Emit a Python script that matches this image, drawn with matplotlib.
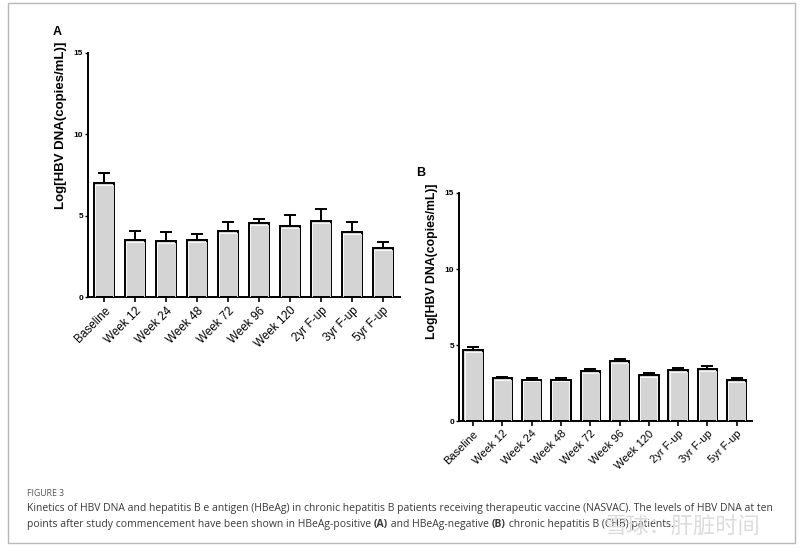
import matplotlib
matplotlib.use("Agg")
import matplotlib.pyplot as plt
from matplotlib.patches import Rectangle
import numpy as np

categories = ["Baseline", "Week 12", "Week 24", "Week 48", "Week 72", "Week 96",
              "Week 120", "2yr F-up", "3yr F-up", "5yr F-up"]
mean_a = [6.99, 3.53, 3.45, 3.49, 4.05, 4.56, 4.38, 4.66, 3.99, 3.04]
err_a = [0.65, 0.54, 0.52, 0.37, 0.57, 0.25, 0.69, 0.72, 0.63, 0.37]
mean_b = [4.68, 2.81, 2.72, 2.72, 3.29, 3.95, 3.01, 3.34, 3.40, 2.68]
err_b = [0.20, 0.11, 0.11, 0.11, 0.14, 0.11, 0.15, 0.15, 0.25, 0.13]
yticks = [0, 5, 10, 15]
ylabel = "Log[HBV DNA(copies/mL)]"

plt.rcParams['font.family'] = ['Liberation Sans', 'DejaVu Sans']

W, H = 800, 552
fig = plt.figure(figsize=(W / 100, H / 100), dpi=100)
fig.patch.set_facecolor("white")

# outer frame
fig.add_artist(Rectangle((8 / W, 1 - 543 / H), (795 - 8) / W, (543 - 3) / H,
                         transform=fig.transFigure, fill=False,
                         edgecolor="#b8b8b8", lw=1.0))


def panel(rect, means, errs, xlim, letter, letter_xy, ylab_xy, ylab_fs, xt_fs):
    ax = fig.add_axes(rect)
    x = np.arange(len(categories))
    ax.bar(x, means, width=0.66, color="#d4d4d4", edgecolor="black", lw=1.4, zorder=2)
    ax.bar(x, np.array(means) - 0.12, width=0.58, color="none", edgecolor="white",
           lw=0.6, zorder=3)
    ax.errorbar(x, means, yerr=[np.zeros(len(errs)), errs], fmt="none",
                ecolor="black", elinewidth=1.4, capsize=4, capthick=1.4, zorder=1)
    ax.set_xlim(*xlim)
    ax.set_ylim(0, 15)
    ax.set_yticks(yticks)
    ax.set_yticklabels([str(t) for t in yticks], fontsize=6, fontweight="bold")
    ax.set_xticks(x)
    ax.set_xticklabels(categories, rotation=45, ha="right", rotation_mode="anchor",
                       fontsize=xt_fs)
    for s in ["top", "right"]:
        ax.spines[s].set_visible(False)
    for s in ["left", "bottom"]:
        ax.spines[s].set_linewidth(1.4)
    ax.tick_params(axis="y", length=2.5, width=1.0, pad=1)
    ax.tick_params(axis="x", length=3.5, width=1.2, pad=2)
    ax.set_facecolor("none")
    ax.set_ylabel(ylabel, fontsize=ylab_fs, fontweight="bold")
    ax.yaxis.set_label_coords(*ylab_xy)
    fig.text(letter_xy[0] / W, 1 - letter_xy[1] / H, letter, fontsize=9,
             fontweight="bold", ha="left", va="center")
    return ax


axA = panel([88 / W, 1 - 297 / H, 312 / W, 244 / H], mean_a, err_a,
            (-0.52, 9.55), "A", (53, 32), (-0.068, 0.705), 9.5, 8.5)
axB = panel([459 / W, 1 - 421 / H, 293 / W, 228 / H], mean_b, err_b,
            (-0.48, 9.52), "B", (416, 173), (-0.072, 0.70), 8.8, 8.0)

# caption
fig.text(27 / W, 1 - 493 / H, "FIGURE 3", fontsize=6.3, color="#555555",
         family=["Open Sans", "DejaVu Sans"], va="center")

cap_color = "#3a3a3a"
line1 = ("Kinetics of HBV DNA and hepatitis B e antigen (HBeAg) in chronic hepatitis B "
         "patients receiving therapeutic vaccine (NASVAC). The levels of HBV DNA at ten")
t1 = fig.text(27 / W, 1 - 508 / H, line1, fontsize=8, color=cap_color,
              family=["Open Sans", "DejaVu Sans"], va="center")
fig.canvas.draw()
r = fig.canvas.get_renderer()
w1 = t1.get_window_extent(r).width
fs = 8 * (775 - 27) / w1
t1.set_fontsize(fs)

pieces = [("points after study commencement have been shown in HBeAg-positive ", "normal"),
          ("(A)", "bold"), (" and HBeAg-negative ", "normal"), ("(B)", "bold"),
          (" chronic hepatitis B (CHB) patients.", "normal")]
xpos = 27
fig.canvas.draw()
for txt, wt in pieces:
    t = fig.text(xpos / W, 1 - 524 / H, txt, fontsize=fs, color=cap_color,
                 family=["Open Sans", "DejaVu Sans"], va="center", fontweight=wt)
    fig.canvas.draw()
    xpos += t.get_window_extent(r).width

# watermark
fig.text(604 / W, 1 - 527 / H, "雪球：肝脏时间", fontsize=16, color="#d8d8d8",
         family=["Noto Sans CJK SC", "DejaVu Sans"], va="center", alpha=0.9)

fig.savefig("out.png", dpi=100)
